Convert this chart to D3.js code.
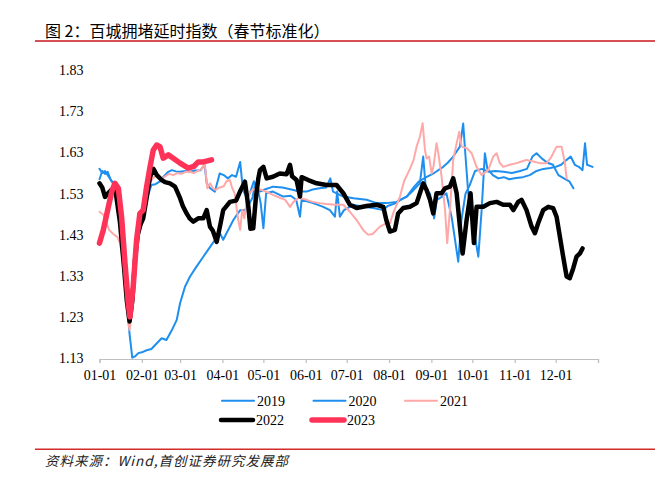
<!DOCTYPE html>
<html><head><meta charset="utf-8">
<script src="https://cdn.jsdelivr.net/npm/d3@7"></script>
<style>
html,body{margin:0;padding:0;background:#fff;}
svg{display:block;}
</style></head>
<body>
<svg id="chart" width="663" height="489"></svg>
<script>
// ---------- data ----------
const title = "图 2：百城拥堵延时指数（春节标准化）";
const source = "资料来源：Wind,首创证券研究发展部";
const yTicks = [1.13, 1.23, 1.33, 1.43, 1.53, 1.63, 1.73, 1.83];
const monthLabels = ["01-01","02-01","03-01","04-01","05-01","06-01","07-01","08-01","09-01","10-01","11-01","12-01"];
const seriesNames = ["2019","2020","2021","2022","2023"];

// [day offset from 01-01, index value]
const s2019 = [[0,1.565],[2,1.585],[4,1.578],[6,1.583],[8,1.565],[10,1.555],[12,1.545],[14,1.50],[16,1.43],[18,1.34],[20,1.26],[22,1.215],[24,1.27],[26,1.38],[28,1.44],[30,1.47],[32,1.49],[35,1.52],[38,1.551],[41,1.553],[44,1.559],[47,1.572],[50,1.582],[53,1.587],[56,1.584],[59,1.583],[63,1.585],[66,1.583],[70,1.586],[74,1.587],[77,1.60],[78.5,1.555],[81,1.543],[84.5,1.535],[88,1.579],[91,1.575],[94,1.567],[97,1.575],[100,1.571],[103,1.607],[105,1.539],[108,1.52],[110,1.53],[113,1.56],[115,1.545],[117.5,1.535],[121,1.54],[127,1.547],[134,1.545],[142,1.539],[146,1.535],[151.7,1.535],[156,1.54],[161,1.543],[166,1.545],[169,1.567],[171,1.535],[178.5,1.523],[186,1.519],[195.6,1.515],[203,1.507],[210,1.507],[217.6,1.51],[225,1.523],[230,1.539],[234.6,1.555],[237,1.62],[239,1.54],[242,1.53],[245,1.47],[247,1.515],[251,1.523],[254,1.531],[258,1.47],[262.7,1.365],[265,1.466],[268,1.53],[271,1.55],[275,1.585],[280,1.59],[285,1.583],[290,1.585],[296,1.583],[302,1.58],[308,1.585],[313,1.59],[317,1.62],[320,1.628],[324,1.615],[328,1.605],[332,1.6],[336,1.575],[340,1.567],[344,1.56],[347,1.543]];
const s2020 = [[0,1.59],[2,1.58],[4,1.585],[6,1.575],[8,1.565],[10,1.555],[12,1.54],[14,1.50],[16,1.44],[18,1.36],[20,1.27],[22,1.19],[24,1.132],[26,1.135],[28.4,1.143],[31,1.145],[34.5,1.15],[38,1.153],[42,1.167],[45.5,1.179],[49,1.175],[53,1.199],[56.5,1.223],[59,1.264],[62.6,1.304],[66.3,1.329],[71,1.353],[76,1.377],[81,1.401],[84.6,1.418],[88.2,1.434],[90.6,1.418],[93,1.434],[98,1.466],[103,1.49],[106.5,1.49],[110,1.507],[112,1.52],[114,1.555],[116,1.54],[118,1.507],[120,1.446],[122,1.531],[127,1.535],[134.6,1.523],[140,1.525],[144,1.515],[146.8,1.474],[148,1.515],[156.5,1.507],[163.8,1.498],[168.7,1.49],[172.4,1.474],[174,1.535],[176,1.474],[179,1.49],[185.8,1.503],[193,1.498],[200.4,1.495],[207.8,1.49],[211,1.50],[217,1.507],[220,1.515],[225,1.523],[230,1.545],[234,1.56],[240,1.571],[245,1.58],[251.7,1.595],[255,1.605],[259,1.62],[263.9,1.644],[266.3,1.70],[268,1.62],[270,1.531],[273.7,1.45],[277.4,1.377],[279.8,1.49],[282.2,1.628],[284,1.59],[288,1.575],[292,1.567],[296,1.57],[300,1.565],[305,1.568],[310,1.57],[315,1.575],[320,1.585],[325,1.59],[330,1.592],[334,1.595],[338,1.6],[342,1.612],[345,1.62],[348,1.6],[351,1.595],[353.7,1.587],[355.5,1.652],[357,1.6],[361,1.595]];
const s2021 = [[0,1.486],[3,1.478],[5,1.46],[7,1.442],[10,1.432],[13,1.425],[15,1.41],[17,1.37],[19,1.30],[21,1.22],[22,1.199],[24,1.25],[26,1.34],[28,1.42],[30,1.47],[33,1.515],[36,1.55],[39,1.568],[42,1.575],[45,1.565],[48,1.572],[51,1.578],[54,1.575],[57,1.58],[60,1.578],[63,1.583],[66,1.583],[69,1.58],[72,1.585],[75,1.59],[77,1.604],[79,1.543],[81,1.555],[83,1.543],[85,1.539],[88,1.545],[91,1.548],[93,1.56],[95.5,1.563],[97,1.545],[99,1.53],[101.6,1.466],[103,1.442],[104.5,1.49],[106,1.47],[108,1.515],[110,1.531],[112,1.539],[115,1.542],[118,1.54],[122,1.535],[127,1.527],[132,1.52],[136,1.515],[139.5,1.498],[142,1.51],[146,1.52],[151.7,1.515],[156,1.51],[161.4,1.507],[166,1.505],[172,1.503],[178.5,1.503],[183.4,1.486],[188.3,1.466],[193,1.442],[196.8,1.43],[200,1.432],[205.3,1.45],[210,1.458],[212.7,1.458],[215,1.482],[220,1.523],[223,1.56],[227.3,1.59],[230,1.612],[232.2,1.644],[234.6,1.668],[236.6,1.701],[238.3,1.636],[239.5,1.615],[241.4,1.62],[243.2,1.579],[244.5,1.595],[246.8,1.652],[248,1.63],[250.5,1.571],[253,1.49],[254.6,1.41],[256.6,1.49],[259,1.612],[261.5,1.652],[263.4,1.68],[265.2,1.644],[269,1.64],[272.5,1.628],[276.1,1.595],[279.8,1.575],[284.6,1.587],[288.3,1.62],[290.8,1.628],[293,1.605],[295.6,1.595],[300.5,1.6],[305.4,1.604],[309,1.608],[312.7,1.612],[317.6,1.608],[322.5,1.604],[327.4,1.604],[331,1.62],[334.7,1.644],[338.4,1.644],[340.8,1.604],[342,1.567]];
const s2022 = [[0,1.555],[2,1.545],[4,1.522],[6,1.53],[9,1.54],[12,1.53],[15,1.46],[18,1.35],[20,1.27],[22,1.22],[24,1.27],[26,1.37],[28,1.43],[30,1.455],[32,1.47],[35,1.53],[37,1.57],[39.5,1.59],[42,1.575],[45.5,1.563],[48,1.558],[51.6,1.555],[55.3,1.547],[59,1.519],[61,1.50],[63.8,1.482],[66,1.47],[68.7,1.462],[72.3,1.47],[76,1.47],[78.5,1.49],[80.9,1.45],[83,1.44],[85.8,1.413],[88.2,1.45],[90.6,1.49],[95.5,1.51],[100,1.513],[102.9,1.535],[106.5,1.559],[109,1.498],[110.5,1.445],[112.6,1.446],[114.5,1.52],[116.3,1.567],[117.5,1.587],[120,1.595],[122.4,1.567],[127,1.571],[132,1.579],[137,1.577],[139.5,1.60],[141,1.572],[144.3,1.563],[146.8,1.523],[148,1.57],[152.9,1.563],[159,1.555],[166.3,1.551],[173.6,1.551],[178.5,1.531],[183.4,1.503],[188.3,1.495],[195.6,1.50],[203,1.503],[207.8,1.498],[210,1.466],[212.7,1.438],[216.3,1.442],[218.7,1.482],[222.4,1.495],[227.3,1.498],[232.2,1.507],[233.4,1.519],[237,1.555],[239.5,1.539],[242,1.515],[244.4,1.482],[246.8,1.531],[250.5,1.531],[253,1.543],[256.6,1.547],[259,1.567],[261.5,1.531],[263.9,1.45],[265.9,1.385],[268.8,1.466],[271.7,1.531],[274.2,1.41],[276.1,1.498],[281,1.498],[285.9,1.507],[290.8,1.51],[295.6,1.503],[300.5,1.503],[303,1.49],[306.6,1.51],[309,1.515],[312.7,1.49],[316.4,1.45],[318.8,1.434],[321.2,1.458],[324.9,1.49],[328.6,1.498],[332.2,1.495],[334.7,1.474],[337.1,1.426],[339.5,1.377],[342,1.329],[344.4,1.325],[346.9,1.349],[349.3,1.377],[351.8,1.385],[353.7,1.397]];
const s2023 = [[0,1.41],[2.8,1.442],[6.5,1.498],[9,1.535],[11.3,1.555],[13.8,1.543],[16.2,1.474],[18.7,1.361],[21.1,1.264],[22.3,1.231],[24.7,1.304],[27.2,1.418],[29.6,1.482],[32,1.49],[34.5,1.547],[37,1.595],[39.4,1.636],[41.9,1.648],[44.3,1.644],[46.7,1.616],[50.4,1.624],[54,1.616],[59,1.604],[65,1.592],[69,1.596],[72.3,1.607],[76,1.607],[82,1.612]];

const seriesData = [s2019, s2020, s2021, s2022, s2023];

// ---------- styles / layout ----------
const colors = {"2019":"#1e8fef","2020":"#1e8fef","2021":"#ffa8a8","2022":"#000000","2023":"#ff3358"};
const widths = {"2019":2,"2020":2,"2021":2,"2022":4.5,"2023":5.5};

const svg = d3.select("#chart");
const base = new Date(2019,0,1);
const toDate = d => new Date(2019,0,1+Math.floor(d), (d%1)*24);

const x = d3.scaleTime().domain([base, new Date(2020,0,1)]).range([99.5, 598]);
const y = d3.scaleLinear().domain([1.13, 1.83]).range([358.5, 70]);

// title
svg.append("text").attr("x",45).attr("y",37)
  .style("font-family","'Noto Sans CJK SC',sans-serif").style("font-size","16px").attr("fill","#000")
  .text(title);
svg.append("line").attr("x1",35).attr("x2",655).attr("y1",41).attr("y2",41)
  .attr("stroke","#c8161d").attr("stroke-width",1.4);

// x axis
const monthDates = d3.range(12).map(m => new Date(2019,m,1));
const xAxis = d3.axisBottom(x)
  .tickValues(monthDates.concat([new Date(2020,0,1)]))
  .tickSize(4).tickPadding(7)
  .tickFormat((d,i) => i < monthLabels.length ? monthLabels[i] : "");
const gx = svg.append("g").attr("transform","translate(0,359)").call(xAxis);
gx.select(".domain").attr("stroke","#bfbfbf").attr("stroke-width",1.2);
gx.selectAll(".tick line").attr("stroke","#bfbfbf").attr("stroke-width",1.2);
gx.selectAll(".tick text").style("font-family","'Liberation Serif','Times New Roman',serif")
  .style("font-size","14px").attr("fill","#000");

// y axis (labels only)
const yAxis = d3.axisLeft(y).tickValues(yTicks).tickSize(0).tickPadding(3.5).tickFormat(d3.format(".2f"));
const gy = svg.append("g").attr("transform","translate(87,0)").call(yAxis);
gy.select(".domain").remove();
gy.selectAll(".tick text").style("font-family","'Liberation Serif','Times New Roman',serif")
  .style("font-size","14px").attr("fill","#000");

// lines
const line = d3.line().x(d => x(toDate(d[0]))).y(d => y(d[1]));
seriesNames.forEach((name, i) => {
  svg.append("path").datum(seriesData[i])
    .attr("fill","none").attr("stroke",colors[name]).attr("stroke-width",widths[name])
    .attr("stroke-linejoin","round").attr("stroke-linecap","round")
    .attr("d", line);
});

// legend
const legendPos = [[222,400.7],[313.5,400.7],[405,400.7],[221,420],[312,420]];
seriesNames.forEach((name,i) => {
  const [lx,ly] = legendPos[i];
  svg.append("line").attr("x1",lx).attr("x2",lx+32).attr("y1",ly).attr("y2",ly)
    .attr("stroke",colors[name]).attr("stroke-width",widths[name]).attr("stroke-linecap","round");
  svg.append("text").attr("x",lx+35).attr("y",ly).attr("dy","0.35em")
    .style("font-family","'Liberation Serif','Times New Roman',serif").style("font-size","14px")
    .attr("fill","#000").text(name);
});

// bottom rule and source
svg.append("line").attr("x1",35).attr("x2",655).attr("y1",449.3).attr("y2",449.3)
  .attr("stroke","#d42a2a").attr("stroke-width",1.6);
svg.append("text").attr("x",45).attr("y",466)
  .style("font-family","'Noto Sans CJK SC',sans-serif").style("font-size","13.5px").style("font-style","italic")
  .style("letter-spacing","1px").attr("fill","#222").text(source);
</script>
</body></html>
